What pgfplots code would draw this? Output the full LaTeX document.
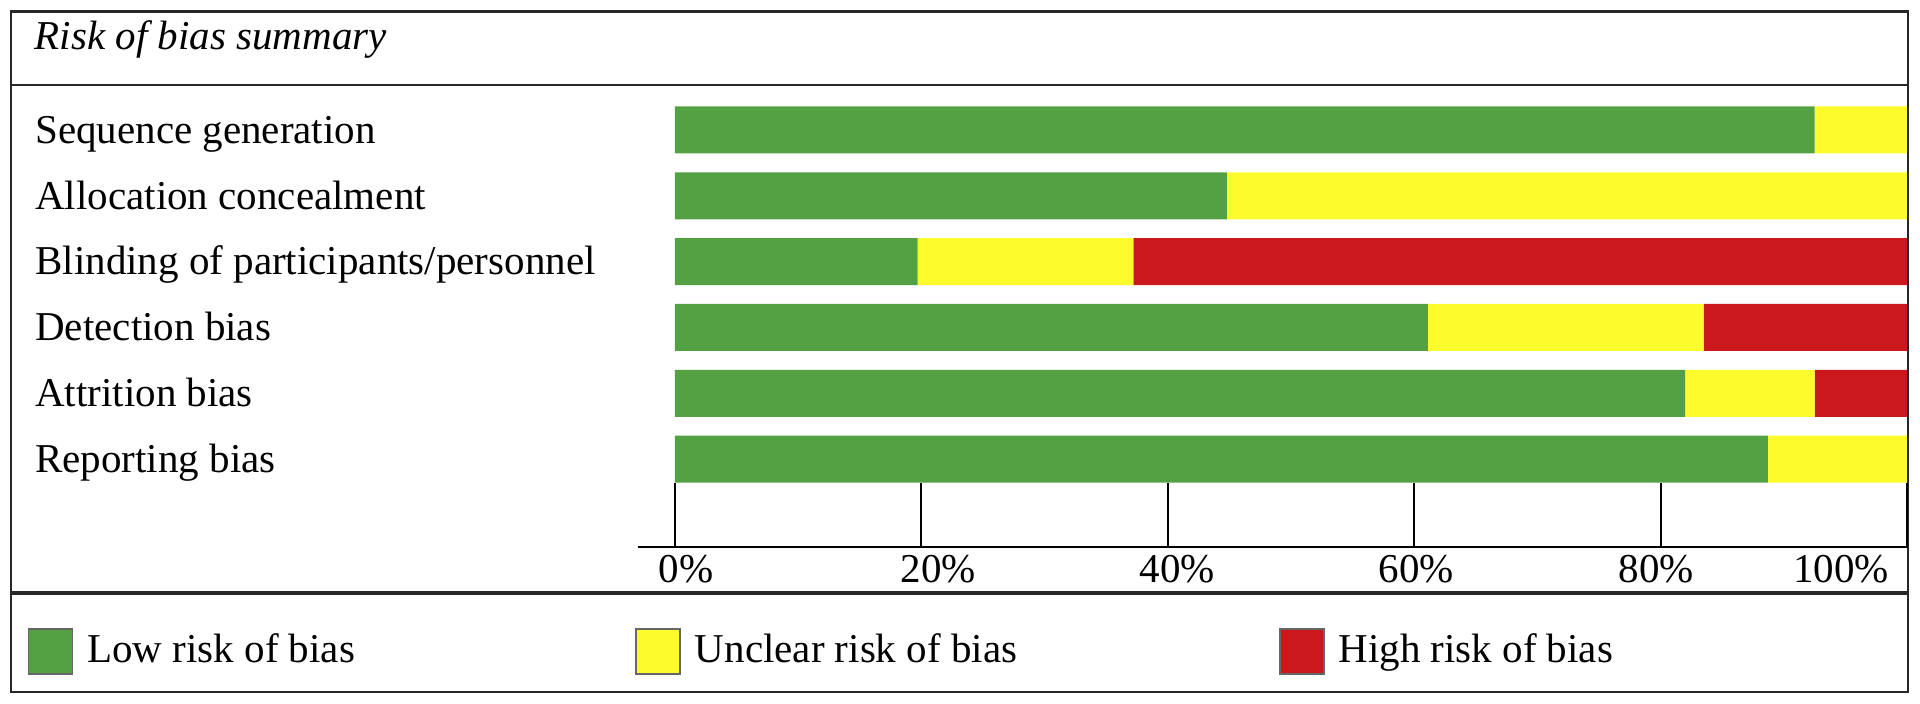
\documentclass[border=0pt]{standalone}
\usepackage{fontspec}
\setmainfont{Liberation Serif}
\usepackage{pgfplots}
\pgfplotsset{compat=1.18}
\definecolor{rgreen}{RGB}{84,161,68}
\definecolor{ryellow}{RGB}{252,252,45}
\definecolor{rred}{RGB}{202,24,28}
\definecolor{rframe}{RGB}{40,40,40}
\newcommand{\fs}{\fontsize{10.25}{12}\selectfont}
\begin{document}
\begin{tikzpicture}
\begin{scope}[x=0.25pt,y=-0.25pt,shift={(0pt,176pt)}]
\path[use as bounding box] (0,0) rectangle (1920,704);
\draw[rframe,line width=0.6pt] (11,11.7) rectangle (1907.7,692);
\draw[rframe,line width=0.6pt] (11,85) -- (1907.7,85);
\draw[rframe,line width=0.8pt] (11,593) -- (1907.7,593);
\draw[black,line width=0.55pt] (638,546.7) -- (1907.7,546.7);
\node[anchor=base west,inner sep=0pt,font=\fs\itshape] at (34,50) {Risk of bias summary};
\end{scope}
\begin{axis}[
  at={(168.75pt,39.325pt)}, anchor=south west,
  scale only axis, width=308pt, height=112.425pt,
  xbar stacked, bar width=11.75pt,
  xmin=0, xmax=100, ymin=-0.5, ymax=6.33, y dir=reverse,
  axis x line*=bottom, axis y line*=left,
  y axis line style={draw=none}, x axis line style={line width=0.55pt},
  xtick={0,20,40,60,80,100},
  xticklabels={0\%,\hspace*{-1.1pt}20\%,\hspace*{-2.95pt}40\%,\hspace*{-4.8pt}60\%,\hspace*{-6.4pt}80\%,\hspace*{-1.9pt}\llap{100\%}},
  tick align=inside, major tick length=15.9pt,
  xtick style={black,line width=0.5pt},
  xticklabel style={anchor=base west, inner sep=0pt, xshift=-4.25pt, yshift=-9.075pt, font=\fs},
  ytick={0,1,2,3,4,5},
  yticklabels={Sequence generation,Allocation concealment,Blinding of participants/personnel,Detection bias,Attrition bias,Reporting bias},
  ytick style={draw=none},
  yticklabel style={anchor=base west, inner sep=0pt, xshift=-160.1pt, yshift=-3.325pt, font=\fs},
  legend columns=3,
  legend style={at={(axis description cs:-0.52597,-0.2330)}, anchor=west, draw=none, fill=none, inner sep=0pt, font=\fs,
    /tikz/every odd column/.append style={column sep=3.5pt}, nodes={inner sep=0pt}},
  legend image code/.code={\draw[#1,draw=black!60,line width=0.4pt] (0pt,-5.625pt) rectangle (11pt,5.625pt);},
]
\addplot[fill=rgreen, draw=none] coordinates {(92.5,0) (44.8,1) (19.7,2) (61.1,3) (82.0,4) (88.7,5)};
\addplot[fill=ryellow, draw=none] coordinates {(7.5,0) (55.2,1) (17.5,2) (22.4,3) (10.5,4) (11.3,5)};
\addplot[fill=rred, draw=none] coordinates {(0,0) (0,1) (62.8,2) (16.5,3) (7.5,4) (0,5)};
\legend{\makebox[137pt][l]{Low risk of bias},\makebox[146pt][l]{Unclear risk of bias},High risk of bias}
\end{axis}
\end{tikzpicture}
\end{document}
